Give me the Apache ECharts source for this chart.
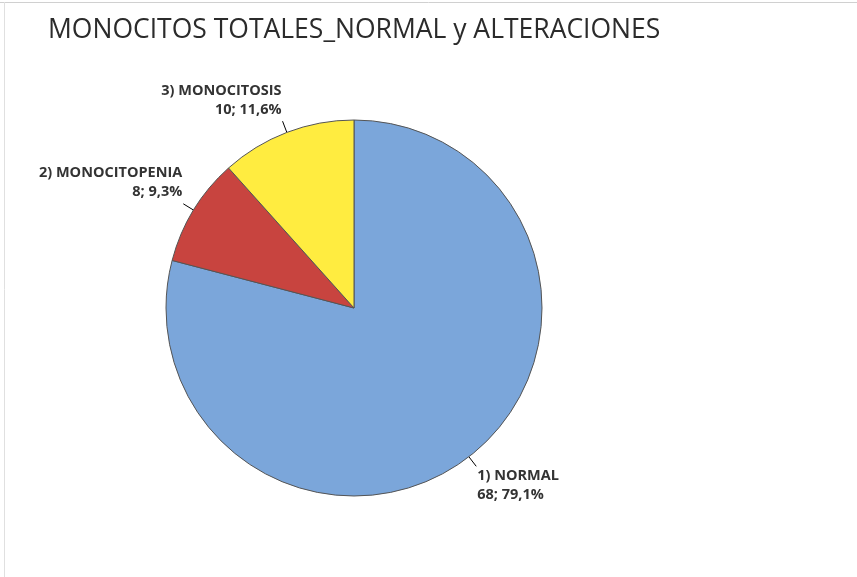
<!DOCTYPE html>
<html>
<head>
<meta charset="utf-8">
<script src="https://cdn.jsdelivr.net/npm/echarts@6/dist/echarts.min.js"></script>
<style>html,body{margin:0;padding:0;background:#fff}#c{width:857px;height:577px}</style>
</head>
<body>
<div id="c"></div>
<script>
const titleText = 'MONOCITOS TOTALES_NORMAL y ALTERACIONES';
const categories = ['1) NORMAL', '2) MONOCITOPENIA', '3) MONOCITOSIS'];
const counts = [68, 8, 10];
const percentLabels = ['79,1%', '9,3%', '11,6%'];
const colors = ['#7ba6da', '#c8443f', '#ffec40'];

const chart = echarts.init(document.getElementById('c'), null, {renderer: 'canvas'});
const data = categories.map((name, i) => ({
  name: name,
  value: counts[i],
  pct: percentLabels[i],
  itemStyle: {color: colors[i]}
}));

chart.setOption({
  animation: false,
  backgroundColor: '#fff',
  title: {
    text: titleText,
    left: 43,
    top: 12,
    textStyle: {fontFamily: 'Open Sans', fontSize: 26.5, fontWeight: 'normal', color: '#2b2b2b'}
  },
  graphic: [
    {type: 'line', shape: {x1: 0, y1: 2.5, x2: 857, y2: 2.5}, style: {stroke: '#d0d0d0', lineWidth: 1}},
    {type: 'line', shape: {x1: 4.5, y1: 2, x2: 4.5, y2: 577}, style: {stroke: '#e0e0e0', lineWidth: 1}}
  ],
  series: [{
    type: 'pie',
    center: [354, 308],
    radius: 188,
    startAngle: 90,
    clockwise: true,
    data: data,
    itemStyle: {borderColor: '#555555', borderWidth: 1},
    label: {
      show: true,
      position: 'outside',
      formatter: p => p.name + '\n' + p.value + '; ' + p.data.pct,
      fontFamily: 'Open Sans',
      fontSize: 14.5,
      fontWeight: 'bold',
      color: '#333333',
      lineHeight: 19,
      distanceToLabelLine: 1
    },
    labelLine: {show: true, length: 12, length2: 0, lineStyle: {color: '#000', width: 1}},
    labelLayout: function (p) {
      const above = p.labelRect.y + p.labelRect.height / 2 < 308;
      return above ? {verticalAlign: 'bottom', dy: -2} : {verticalAlign: 'top'};
    },
    emphasis: {disabled: true}
  }]
});
</script>
</body>
</html>
